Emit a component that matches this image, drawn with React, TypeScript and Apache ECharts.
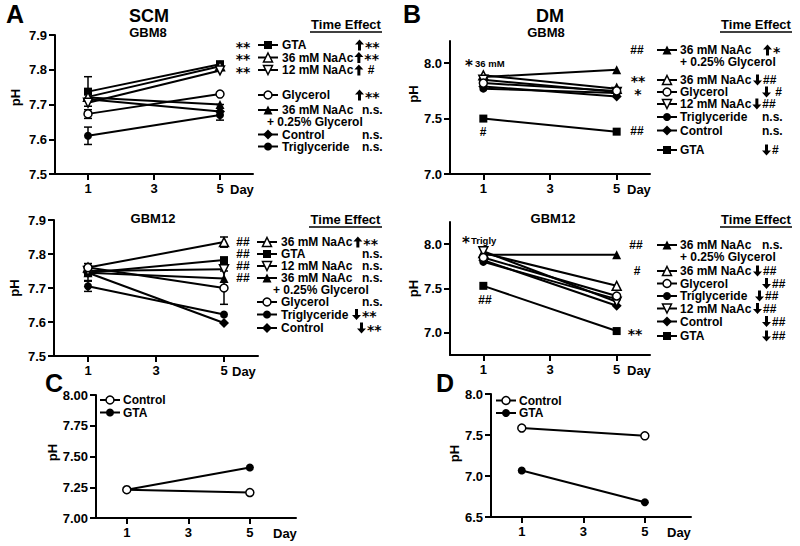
import React, { useEffect, useRef } from 'react';
import * as echarts from 'echarts';

// ---------- data ----------
const days = [1, 5];
const dayTicks = [1, 3, 5];
const treatments = ['GTA', '36 mM NaAc', '12 mM NaAc', 'Glycerol', '36 mM NaAc + 0.25% Glycerol', 'Control', 'Triglyceride'];

const scmGbm8Day1 = [7.737, 7.722, 7.705, 7.673, 7.72, 7.715, 7.61];
const scmGbm8Day5 = [7.816, 7.81, 7.798, 7.73, 7.7, 7.68, 7.67];
const scmGbm12Day1 = [7.745, 7.76, 7.75, 7.76, 7.745, 7.745, 7.705];
const scmGbm12Day5 = [7.782, 7.835, 7.755, 7.7, 7.728, 7.597, 7.622];
const dmGbm8Day1 = [7.5, 7.89, 7.85, 7.82, 7.875, 7.79, 7.77];
const dmGbm8Day5 = [7.382, 7.77, 7.74, 7.75, 7.94, 7.7, 7.73];
const dmGbm12Day1 = [7.53, 7.9, 7.92, 7.85, 7.88, 7.82, 7.8];
const dmGbm12Day5 = [7.02, 7.53, 7.35, 7.415, 7.88, 7.305, 7.38];

// error bars: [day, low, high]
const scmGbm8Err = [[1, 7.695, 7.78], [1, 7.66, 7.685], [1, 7.585, 7.635], [5, 7.655, 7.7]];
const scmGbm12Err = [[1, 7.722, 7.772], [1, 7.69, 7.72], [5, 7.82, 7.85], [5, 7.652, 7.75]];

const cdNames = ['Control', 'GTA'];
const cControlPh = [7.23, 7.207];
const cGtaPh = [7.23, 7.41];
const dControlPh = [7.585, 7.49];
const dGtaPh = [7.068, 6.68];

const yTicksA = [7.5, 7.6, 7.7, 7.8, 7.9];
const yTicksB = [7.0, 7.5, 8.0];
const yTicksC = [7.0, 7.25, 7.5, 7.75, 8.0];
const yTicksD = [6.5, 7.0, 7.5, 8.0];

// ---------- styles ----------
const FONT = '"Liberation Sans", Arial, Helvetica, sans-serif';
const SYMFONT = '"DejaVu Sans", "Liberation Sans", sans-serif';
const LEG = 12;
const SIG = 12;
const STAR = 14;
const STAR_DY = 1.5;
type Marker = { symbol: string; filled: boolean; rotate?: number; size: number };
const markers: Record<string, Marker> = {
  'GTA': { symbol: 'rect', filled: true, size: 8 },
  '36 mM NaAc': { symbol: 'triangle', filled: false, size: 9 },
  '12 mM NaAc': { symbol: 'triangle', filled: false, rotate: 180, size: 9 },
  'Glycerol': { symbol: 'circle', filled: false, size: 8 },
  '36 mM NaAc + 0.25% Glycerol': { symbol: 'triangle', filled: true, size: 9 },
  'Control': { symbol: 'diamond', filled: true, size: 10 },
  'Triglyceride': { symbol: 'circle', filled: true, size: 8 },
};
const cdMarkers: Record<string, Marker> = {
  'Control': { symbol: 'circle', filled: false, size: 8 },
  'GTA': { symbol: 'circle', filled: true, size: 8 },
};

let measureCtx: CanvasRenderingContext2D | null = null;
function measure(text: string, font: string) {
  if (!measureCtx) measureCtx = document.createElement('canvas').getContext('2d');
  if (!measureCtx) return text.length * 7;
  measureCtx.font = font;
  return measureCtx.measureText(text).width;
}

function lineSeries(name: string, values: number[], gi: number, m: Marker) {
  return {
    type: 'line', name, xAxisIndex: gi, yAxisIndex: gi,
    data: days.map((d, i) => [d, values[i]]),
    symbol: m.symbol, symbolSize: m.size, symbolRotate: m.rotate || 0, showSymbol: true,
    lineStyle: { color: '#000', width: 2 },
    itemStyle: { color: m.filled ? '#000' : '#fff', borderColor: '#000', borderWidth: m.filled ? 0 : 1.5 },
    z: m.filled ? 3 : 4, silent: true, emphasis: { disabled: true },
  };
}

function errSeries(data: number[][], gi: number) {
  return {
    type: 'custom', xAxisIndex: gi, yAxisIndex: gi, data, encode: { x: 0, y: [1, 2] }, z: 2, silent: true,
    renderItem: (_p: any, api: any) => {
      const lo = api.coord([api.value(0), api.value(1)]);
      const hi = api.coord([api.value(0), api.value(2)]);
      const w = 4;
      const st = { stroke: '#000', lineWidth: 1.5 };
      return {
        type: 'group', children: [
          { type: 'line', shape: { x1: lo[0], y1: lo[1], x2: hi[0], y2: hi[1] }, style: st },
          { type: 'line', shape: { x1: lo[0] - w, y1: lo[1], x2: lo[0] + w, y2: lo[1] }, style: st },
          { type: 'line', shape: { x1: hi[0] - w, y1: hi[1], x2: hi[0] + w, y2: hi[1] }, style: st },
        ],
      };
    },
  };
}

const axisLine = { show: true, onZero: false, lineStyle: { color: '#000', width: 2 } };
const tickLabel = { fontFamily: FONT, fontWeight: 'bold', fontSize: 13, color: '#000' };

function xAxis(gi: number, max: number, nameGap: number) {
  return {
    type: 'value', gridIndex: gi, min: 0, max,
    name: 'Day', nameLocation: 'end', nameGap,
    nameTextStyle: { ...tickLabel, verticalAlign: 'top', padding: [9, 0, 0, 0] },
    axisLine,
    axisTick: { show: true, customValues: dayTicks, length: 6, lineStyle: { color: '#000', width: 2 } },
    axisLabel: { ...tickLabel, customValues: dayTicks, margin: 8 },
    splitLine: { show: false },
  };
}

function yAxis(gi: number, min: number, max: number, ticks: number[], dec: number, nameGap: number, padLeft: number) {
  return {
    type: 'value', gridIndex: gi, min, max,
    name: 'pH', nameLocation: 'middle', nameGap,
    nameTextStyle: { ...tickLabel, padding: [0, 0, 0, padLeft] },
    axisLine,
    axisTick: { show: true, customValues: ticks, length: 6, lineStyle: { color: '#000', width: 2 } },
    axisLabel: { ...tickLabel, customValues: ticks, margin: 8, formatter: (v: number) => Number(v).toFixed(dec) },
    splitLine: { show: false },
  };
}

// ---------- legend / annotation graphics ----------
function iconShape(m: Marker, cx: number, cy: number) {
  const s = m.size, h = s / 2;
  const style = { fill: m.filled ? '#000' : '#fff', stroke: '#000', lineWidth: m.filled ? 0 : 1.5 };
  if (m.symbol === 'rect') return { type: 'rect', shape: { x: cx - h, y: cy - h, width: s, height: s }, style };
  if (m.symbol === 'circle') return { type: 'circle', shape: { cx, cy, r: h }, style };
  if (m.symbol === 'diamond') return { type: 'polygon', shape: { points: [[cx, cy - h], [cx + h, cy], [cx, cy + h], [cx - h, cy]] }, style };
  const down = m.rotate === 180;
  const pts = down
    ? [[cx, cy + h], [cx + h, cy - h], [cx - h, cy - h]]
    : [[cx, cy - h], [cx + h, cy + h], [cx - h, cy + h]];
  return { type: 'polygon', shape: { points: pts }, style };
}

function fontOf(size: number, fam = FONT) { return `bold ${size}px ${fam}`; }

function txt(text: string, x: number, y: number, size: number, align = 'left', fam = FONT, extra: any = {}) {
  return {
    type: 'text', x, y, silent: true,
    style: { text, fill: '#000', font: fontOf(size, fam), align, verticalAlign: 'middle', ...extra },
  };
}

// bold arrow glyph drawn as a shape (up or down)
function arrow(cx: number, cy: number, up: boolean) {
  const s = up ? 1 : -1;
  const hw = 4.5, sw = 1.5, hh = 5, h = 5.5;
  const pts = [
    [cx, cy - s * h], [cx + hw, cy - s * (h - hh)], [cx + sw, cy - s * (h - hh)],
    [cx + sw, cy + s * h], [cx - sw, cy + s * h], [cx - sw, cy - s * (h - hh)], [cx - hw, cy - s * (h - hh)],
  ];
  return { type: 'polygon', silent: true, shape: { points: pts }, style: { fill: '#000' } };
}

// significance text ("**", "##", "n.s." ...)
function sig(s: string, x: number, y: number, align = 'left', lineHeight?: number) {
  const star = s.trim()[0] === '*';
  const extra = lineHeight ? { lineHeight } : {};
  return star
    ? txt(s, x, y + STAR_DY, STAR, align, SYMFONT, extra)
    : txt(s, x, y, SIG, align, FONT, extra);
}

function effectEls(effect: string, x: number, y: number) {
  const els: any[] = [];
  let cx = x;
  let rest = effect;
  if (effect[0] === '↑' || effect[0] === '↓') {
    els.push(arrow(cx + 4.5, y, effect[0] === '↑'));
    cx += 10;
    rest = effect.slice(1);
  }
  if (rest) els.push(sig(rest, cx, y));
  return els;
}

type Row = { name: string; y: number; effect?: string; effectX?: number; line2X?: number };
function legendRows(rows: Row[], mk: Record<string, Marker>, sx: number, tx: number) {
  const els: any[] = [];
  rows.forEach((r) => {
    const m = mk[r.name];
    els.push({ type: 'line', silent: true, shape: { x1: sx - 10, y1: r.y, x2: sx + 10, y2: r.y }, style: { stroke: '#000', lineWidth: 2 } });
    els.push({ ...iconShape(m, sx, r.y), silent: true });
    let first = r.name;
    if (r.name === '36 mM NaAc + 0.25% Glycerol') {
      first = '36 mM NaAc';
      const l2 = r.line2X === undefined ? tx : r.line2X;
      if (Math.abs(l2 - tx) < 3) {
        els.push(txt('36 mM NaAc\n+ 0.25% Glycerol', tx, r.y - 5.75, LEG, 'left', FONT, { verticalAlign: 'top', lineHeight: 11.5 }));
      } else {
        els.push(txt(first, tx, r.y, LEG));
        els.push(txt('+ 0.25% Glycerol', l2, r.y + 11.5, LEG));
      }
    } else {
      els.push(txt(first, tx, r.y, LEG));
    }
    if (r.effect) {
      const end = tx + measure(first, fontOf(LEG)) + 1;
      els.push(...effectEls(r.effect, Math.max(r.effectX || 0, end), r.y));
    }
  });
  return els;
}

function timeEffect(x1: number, x2: number, y: number) {
  return [
    txt('Time Effect', (x1 + x2) / 2, y, 13, 'center'),
    { type: 'line', silent: true, shape: { x1, y1: y + 8, x2, y2: y + 8 }, style: { stroke: '#000', lineWidth: 1.5 } },
  ];
}

const NG = '36 mM NaAc + 0.25% Glycerol';

function buildGraphics() {
  return [
    txt('A', 15, 14, 25, 'center'),
    txt('B', 412, 14, 25, 'center'),
    txt('C', 54, 383, 25, 'center'),
    txt('D', 445, 383, 25, 'center'),
    txt('SCM', 149, 15.5, 18, 'center'),
    txt('GBM8', 148, 32.5, 13, 'center'),
    txt('DM', 550, 15.5, 18, 'center'),
    txt('GBM8', 546, 32.5, 13, 'center'),
    txt('GBM12', 153, 218, 13, 'center'),
    txt('GBM12', 553, 218, 13, 'center'),
    ...timeEffect(310, 382, 24),
    ...timeEffect(309, 382, 219),
    ...timeEffect(720, 792, 24),
    ...timeEffect(720, 792, 219),
    // A top legend
    ...legendRows([
      { name: 'GTA', y: 45, effect: '↑**', effectX: 355 },
      { name: '36 mM NaAc', y: 57.5, effect: '↑**', effectX: 349 },
      { name: '12 mM NaAc', y: 70, effect: '↑ #', effectX: 349 },
      { name: 'Glycerol', y: 95, effect: '↑**', effectX: 355 },
      { name: NG, y: 110, effect: 'n.s.', effectX: 362, line2X: 267 },
      { name: 'Control', y: 134.5, effect: 'n.s.', effectX: 362 },
      { name: 'Triglyceride', y: 146.5, effect: 'n.s.', effectX: 362 },
    ], markers, 268, 282),
    sig('**\n**\n**', 243, 57.5, 'center', 12.5),
    // A bottom legend
    ...legendRows([
      { name: '36 mM NaAc', y: 242, effect: '↑**', effectX: 347 },
      { name: 'GTA', y: 254, effect: 'n.s.', effectX: 362 },
      { name: '12 mM NaAc', y: 266, effect: 'n.s.', effectX: 362 },
      { name: NG, y: 278, effect: 'n.s.', effectX: 362, line2X: 273 },
      { name: 'Glycerol', y: 302, effect: 'n.s.', effectX: 362 },
      { name: 'Triglyceride', y: 314.5, effect: '↓**', effectX: 352 },
      { name: 'Control', y: 328, effect: '↓**', effectX: 357 },
    ], markers, 267, 281),
    sig('##\n##\n##\n##', 243, 260, 'center', 12),
    // B top legend
    ...legendRows([
      { name: NG, y: 50, effect: '↑*', effectX: 763, line2X: 680 },
      { name: '36 mM NaAc', y: 80, effect: '↓##', effectX: 753 },
      { name: 'Glycerol', y: 92, effect: '↓ #', effectX: 762 },
      { name: '12 mM NaAc', y: 104, effect: '↓##', effectX: 752 },
      { name: 'Triglyceride', y: 117, effect: 'n.s.', effectX: 762 },
      { name: 'Control', y: 130.5, effect: 'n.s.', effectX: 762 },
      { name: 'GTA', y: 150, effect: '↓#', effectX: 762 },
    ], markers, 667, 680),
    sig('##', 637, 50, 'center'),
    sig('**\n*', 638, 85.5, 'center', 13),
    sig('##', 637, 131, 'center'),
    // B bottom legend
    ...legendRows([
      { name: NG, y: 245, effect: 'n.s.', effectX: 762, line2X: 680 },
      { name: '36 mM NaAc', y: 271, effect: '↓##', effectX: 753 },
      { name: 'Glycerol', y: 283.5, effect: '↓##', effectX: 762 },
      { name: 'Triglyceride', y: 296, effect: '↓##', effectX: 755 },
      { name: '12 mM NaAc', y: 308.5, effect: '↓##', effectX: 753 },
      { name: 'Control', y: 321.5, effect: '↓##', effectX: 762 },
      { name: 'GTA', y: 336, effect: '↓##', effectX: 762 },
    ], markers, 667, 680),
    sig('##', 636, 245, 'center'), sig('#', 637, 271, 'center'),
    sig('**', 635, 332, 'center'),
    // in-plot annotations
    txt('*', 469, 66, 15, 'center', SYMFONT), txt('36 mM', 475, 63, 9.5),
    sig('#', 483, 131.5, 'center'),
    txt('*', 466, 243, 15, 'center', SYMFONT), txt('Trigly', 471, 240, 9.5),
    sig('##', 485, 300, 'center'),
    // C and D legends
    ...legendRows([
      { name: 'Control', y: 400 },
      { name: 'GTA', y: 412.5 },
    ], cdMarkers, 110, 123),
    ...legendRows([
      { name: 'Control', y: 400.5 },
      { name: 'GTA', y: 413 },
    ], cdMarkers, 506, 519),
  ];
}

const grids = [
  { left: 55, top: 35, width: 198, height: 139 },
  { left: 54, top: 220, width: 204, height: 136 },
  { left: 450, top: 41, width: 200, height: 133 },
  { left: 450, top: 222, width: 200, height: 133 },
  { left: 96, top: 395, width: 200, height: 123 },
  { left: 491, top: 394, width: 200, height: 123 },
];

function buildOption() {
  const series: any[] = [];
  const panels: [number[], number[], number][] = [
    [scmGbm8Day1, scmGbm8Day5, 0],
    [scmGbm12Day1, scmGbm12Day5, 1],
    [dmGbm8Day1, dmGbm8Day5, 2],
    [dmGbm12Day1, dmGbm12Day5, 3],
  ];
  panels.forEach(([d1, d5, gi]) => {
    treatments.forEach((t, i) => series.push(lineSeries(t, [d1[i], d5[i]], gi, markers[t])));
  });
  series.push(errSeries(scmGbm8Err, 0));
  series.push(errSeries(scmGbm12Err, 1));
  series.push(lineSeries(cdNames[0], cControlPh, 4, cdMarkers.Control));
  series.push(lineSeries(cdNames[1], cGtaPh, 4, cdMarkers.GTA));
  series.push(lineSeries(cdNames[0], dControlPh, 5, cdMarkers.Control));
  series.push(lineSeries(cdNames[1], dGtaPh, 5, cdMarkers.GTA));

  return {
    animation: false,
    backgroundColor: '#fff',
    grid: grids,
    xAxis: [
      xAxis(0, 6, -23),
      xAxis(1, 6, -26),
      xAxis(2, 6, -23),
      xAxis(3, 6, -23),
      xAxis(4, 6.5, -23),
      xAxis(5, 6.5, -24),
    ],
    yAxis: [
      yAxis(0, 7.5, 7.9, yTicksA, 1, 33, 14),
      yAxis(1, 7.5, 7.9, yTicksA, 1, 33, 0),
      yAxis(2, 7.0, 8.2, yTicksB, 1, 27, 27),
      yAxis(3, 6.75, 8.25, yTicksB, 1, 27, 0),
      yAxis(4, 7.0, 8.0, yTicksC, 2, 32, 8),
      yAxis(5, 6.5, 8.0, yTicksD, 1, 30, 4),
    ],
    series,
    graphic: buildGraphics(),
  };
}

export default function App() {
  const ref = useRef<HTMLDivElement>(null);
  useEffect(() => {
    document.body.style.margin = '0';
    if (!ref.current) return;
    const chart = echarts.init(ref.current, undefined, { renderer: 'svg' });
    chart.setOption(buildOption());
    return () => chart.dispose();
  }, []);
  return <div ref={ref} style={{ width: 800, height: 546 }} />;
}
